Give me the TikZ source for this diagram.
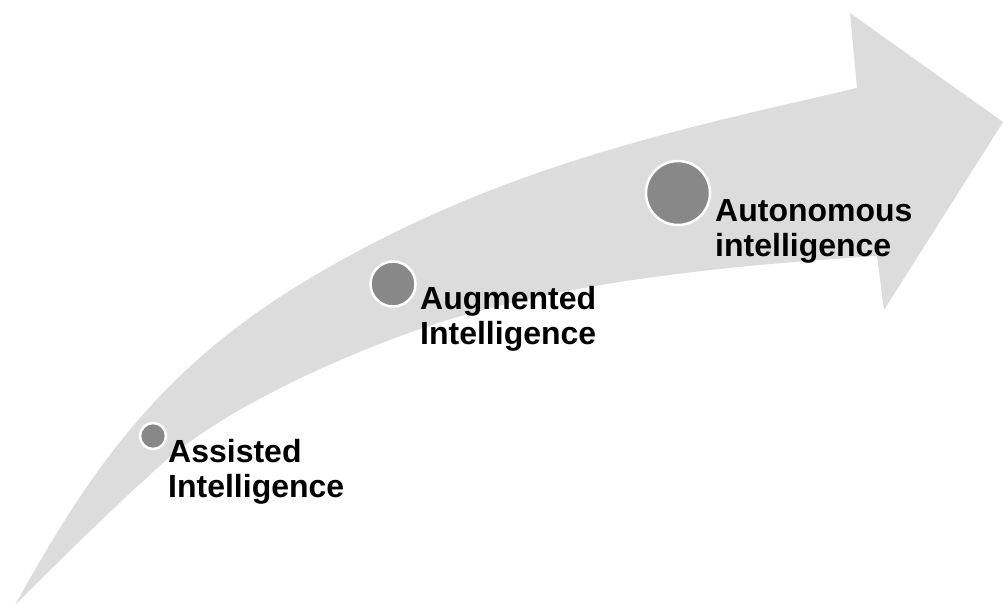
\documentclass[tikz,border=0pt]{standalone}
\usepackage{fontspec}
\setmainfont{Liberation Sans}
\definecolor{arrowgrey}{RGB}{220,220,220}
\definecolor{dotgrey}{RGB}{136,136,136}
\begin{document}
\begin{tikzpicture}[x=1pt,y=-1pt,
  stagedot/.style={circle,fill=dotgrey,draw=white,line width=2.5pt,inner sep=0pt},
  stagelabel/.style={anchor=base west,align=left,inner sep=0pt,
    font=\fontsize{32pt}{35pt}\selectfont\bfseries}]
\useasboundingbox (0,0) rectangle (1003,605);
% curved arrow
\fill[arrowgrey] (15,605) .. controls (88,474) and (157,370) .. (307,280)
  .. controls (496,167) and (672,131) .. (857,88)
  -- (850,13) -- (1003,122) -- (884,310) -- (877,256)
  .. controls (740,265) and (560,280) .. (417,330)
  .. controls (332,360) and (223,410) .. (163,463)
  .. controls (113,507.5) and (55,565) .. (15,605) -- cycle;
% stages
\node[stagedot,minimum size=26pt] (d1) at (153,436) {};
\node[stagedot,minimum size=45pt] (d2) at (393,284) {};
\node[stagedot,minimum size=64pt] (d3) at (678,193) {};
\node[stagelabel] (t1) at (168,497) {Assisted\\Intelligence};
\node[stagelabel] (t2) at (420,344) {Augmented\\Intelligence};
\node[stagelabel] (t3) at (715,256) {Autonomous\\intelligence};
\end{tikzpicture}
\end{document}
